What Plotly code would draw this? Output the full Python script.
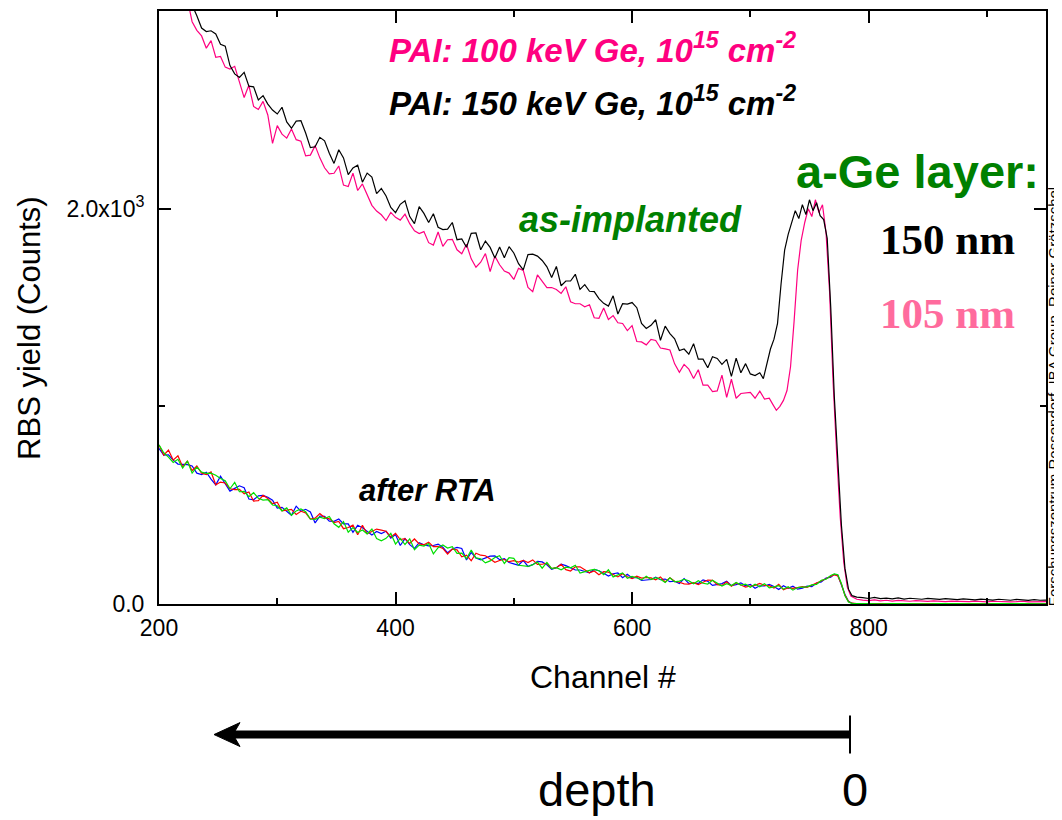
import plotly.graph_objects as go

# ---------------- data ----------------
# as-implanted, PAI 150 keV Ge (black)
ch_150 = list(range(200, 712, 4)) + list(range(711, 789, 3)) + [790] + list(range(795, 955, 5))
y_150 = [3384, 3302, 3274, 3184, 3172, 3160, 3034, 3030, 2976, 2914,
         2896, 2900, 2884, 2832, 2822, 2724, 2682, 2664, 2690, 2620,
         2616, 2550, 2572, 2529, 2499, 2479, 2513, 2439, 2407, 2443,
         2445, 2383, 2309, 2313, 2361, 2343, 2280, 2229, 2298, 2257,
         2172, 2206, 2220, 2134, 2180, 2160, 2076, 2102, 2064, 2006,
         1980, 2022, 2040, 1960, 1924, 2010, 1976, 1930, 1974, 1906,
         1894, 1896, 1930, 1843, 1847, 1805, 1875, 1877, 1792, 1836,
         1804, 1750, 1806, 1752, 1808, 1776, 1722, 1690, 1768, 1770,
         1760, 1738, 1706, 1652, 1708, 1610, 1634, 1634, 1668, 1592,
         1616, 1582, 1580, 1545, 1521, 1507, 1559, 1467, 1519, 1517,
         1525, 1499, 1419, 1394, 1410, 1438, 1334, 1406, 1368, 1342,
         1282, 1290, 1264, 1317, 1239, 1239, 1195, 1251, 1242, 1212,
         1238, 1152, 1244, 1170, 1216, 1164, 1156, 1170,
         1140, 1210, 1290, 1340, 1420, 1620, 1790, 1870, 1935, 1990,
         1950, 2020, 1970, 2045, 1990, 2030, 1965, 1945, 1850, 1500,
         1050, 700, 400, 180, 75, 42,
         35,
         32, 28, 33, 27, 30, 26, 31, 25, 29, 27,
         24, 28, 25, 23, 27, 24, 22, 26, 23, 21,
         25, 22, 20, 24, 21, 19, 23, 20, 18, 22,
         19, 20]

# as-implanted, PAI 100 keV Ge (pink)
ch_100 = list(range(200, 720, 4)) + list(range(719, 788, 3)) + [790] + list(range(795, 955, 5))
y_100 = [3310, 3350, 3246, 3188, 3076, 3076, 3060, 2946, 2902, 2874,
         2812, 2850, 2766, 2770, 2716, 2706, 2720, 2634, 2562, 2624,
         2517, 2502, 2543, 2474, 2330, 2420, 2377, 2357, 2403, 2349,
         2341, 2267, 2271, 2319, 2257, 2207, 2176, 2179, 2216, 2119,
         2112, 2180, 2092, 2125, 2072, 2017, 1988, 1969, 1940, 1981,
         1956, 1942, 1972, 1924, 1888, 1874, 1884, 1828, 1816, 1882,
         1809, 1843, 1845, 1792, 1772, 1820, 1746, 1704, 1729, 1773,
         1682, 1760, 1716, 1684, 1674, 1642, 1698, 1688, 1602, 1580,
         1665, 1633, 1601, 1601, 1591, 1571, 1605, 1529, 1519, 1519,
         1504, 1514, 1448, 1445, 1497, 1439, 1459, 1423, 1419, 1383,
         1408, 1328, 1326, 1311, 1339, 1333, 1295, 1291, 1285, 1215,
         1172, 1212, 1188, 1141, 1185, 1107, 1107, 1075, 1078, 1158,
         1045, 1137, 1041, 1065, 1069, 1071, 1041, 1077, 1037, 1041,
         1010, 980, 1000, 1030, 1080, 1200, 1430, 1690, 1840, 1930,
         2000, 1960, 2045, 1980, 2020, 1880, 1580, 1120, 760, 440,
         210, 85, 40,
         24,
         20, 17, 21, 16, 19, 15, 18, 16, 14, 17,
         15, 13, 16, 14, 12, 15, 13, 14, 12, 15,
         13, 11, 14, 12, 13, 11, 12, 14, 11, 12,
         10, 12]

# after RTA (red, blue, green)
ch_rta = (list(range(200, 744, 4)) + [744, 748, 752, 756, 760, 764, 768, 771, 774, 777, 780, 783, 786, 790]
          + list(range(800, 960, 10)))
y_rta_red = [805, 753, 779, 728, 750, 694, 723, 674, 698, 661,
             655, 668, 603, 617, 612, 583, 579, 580, 558, 567,
             521, 523, 550, 534, 507, 515, 471, 475, 479, 453,
             469, 461, 430, 434, 457, 438, 431, 412, 418, 381,
             387, 399, 350, 398, 355, 367, 379, 374, 368, 339,
             357, 326, 331, 306, 329, 304, 299, 312, 290, 291,
             281, 253, 278, 274, 239, 247, 219, 257, 247, 244,
             226, 211, 220, 225, 214, 219, 212, 221, 210, 223,
             200, 201, 206, 179, 184, 201, 174, 167, 188, 188,
             173, 158, 167, 148, 164, 161, 149, 137, 153, 138,
             129, 141, 131, 134, 132, 122, 137, 112, 133, 115,
             110, 102, 101, 108, 98, 110, 121, 120, 98, 94,
             112, 90, 106, 96, 86, 91, 94, 104, 94, 93,
             81, 99, 72, 82, 79, 83,
             88, 84, 95, 102, 115, 128, 140, 148, 142, 100, 45, 12, 4, 2,
             2, 1, 2, 1, 1, 2, 1, 1, 2, 1, 1, 1, 2, 1, 1, 1]
y_rta_blue = [787, 753, 755, 728, 708, 706, 705, 698, 662, 655,
              667, 632, 603, 647, 612, 571, 585, 598, 588, 531,
              527, 547, 550, 540, 525, 485, 489, 469, 449, 495,
              469, 479, 466, 410, 445, 444, 419, 418, 430, 405,
              405, 363, 398, 386, 367, 349, 367, 356, 368, 333,
              351, 296, 331, 300, 281, 310, 299, 294, 296, 303,
              287, 259, 278, 286, 281, 223, 261, 233, 223, 232,
              242, 243, 224, 229, 210, 203, 196, 221, 190, 199,
              216, 213, 198, 175, 184, 201, 194, 183, 172, 172,
              165, 158, 175, 168, 156, 141, 153, 157, 133, 150,
              132, 135, 119, 120, 124, 136, 123, 126, 113, 115,
              104, 128, 104, 105, 104, 122, 115, 94, 98, 103,
              115, 93, 98, 107, 92, 99, 80, 92, 91, 99,
              89, 73, 92, 79, 90, 75,
              80, 90, 88, 106, 112, 131, 136, 150, 145, 96, 48, 14, 3, 1,
              1, 2, 1, 1, 2, 1, 1, 1, 1, 2, 1, 1, 1, 1, 2, 1]
y_rta_green = [805, 765, 743, 716, 732, 688, 723, 662, 692, 667,
               661, 662, 651, 635, 624, 583, 615, 568, 570, 543,
               563, 535, 526, 528, 501, 497, 471, 487, 449, 471,
               481, 467, 430, 428, 439, 432, 443, 406, 388, 417,
               363, 387, 362, 374, 355, 379, 331, 320, 332, 357,
               303, 332, 301, 330, 275, 298, 293, 306, 254, 285,
               299, 283, 290, 256, 257, 229, 273, 233, 229, 208,
               218, 235, 244, 205, 234, 231, 196, 193, 190, 199,
               212, 181, 210, 179, 184, 173, 186, 183, 196, 156,
               165, 170, 175, 168, 148, 173, 137, 145, 157, 130,
               140, 133, 122, 140, 124, 133, 125, 109, 133, 112,
               116, 125, 118, 102, 118, 105, 101, 120, 106, 91,
               103, 93, 109, 96, 100, 85, 100, 87, 103, 82,
               87, 93, 75, 87, 70, 83,
               85, 87, 97, 99, 120, 125, 144, 152, 148, 104, 42, 10, 3, 2,
               1, 1, 2, 1, 1, 1, 2, 1, 1, 1, 1, 2, 1, 1, 1, 1]

assert len(ch_150) == len(y_150), (len(ch_150), len(y_150))
assert len(ch_100) == len(y_100), (len(ch_100), len(y_100))
for _s in (y_rta_red, y_rta_blue, y_rta_green):
    assert len(ch_rta) == len(_s), (len(ch_rta), len(_s))

x_tickvals = [200, 400, 600, 800]
x_minor = [300, 500, 700, 900]
y_tickvals = [0, 2000]
y_ticktext = ["0.0", "2.0x10<sup>3</sup>"]
y_minor = [1000, 3000]

# ---------------- figure ----------------
FONT = "Liberation Sans, Arial, Helvetica, sans-serif"
SERIF = "Liberation Serif, Times New Roman, serif"

fig = go.Figure()
fig.add_trace(go.Scatter(x=ch_100, y=y_100, mode="lines", line=dict(color="#ff0080", width=1.2)))
fig.add_trace(go.Scatter(x=ch_150, y=y_150, mode="lines", line=dict(color="black", width=1.2)))
fig.add_trace(go.Scatter(x=ch_rta, y=y_rta_blue, mode="lines", line=dict(color="#0000ff", width=1.2)))
fig.add_trace(go.Scatter(x=ch_rta, y=y_rta_red, mode="lines", line=dict(color="#ff0000", width=1.2)))
fig.add_trace(go.Scatter(x=ch_rta, y=y_rta_green, mode="lines", line=dict(color="#00e000", width=1.2)))

axis_common = dict(
    showline=True, linewidth=2, linecolor="black", mirror="ticks",
    ticks="inside", ticklen=12, tickwidth=2, tickcolor="black",
    showgrid=False, zeroline=False,
    tickfont=dict(family=FONT, size=23, color="black"),
)
fig.update_xaxes(range=[200, 950], tickvals=x_tickvals, ticklabelstandoff=2,
                 minor=dict(tickvals=x_minor, ticks="inside", ticklen=6, tickwidth=2, tickcolor="black"),
                 **axis_common)
fig.update_yaxes(range=[0, 3000], tickvals=y_tickvals, ticktext=y_ticktext, ticklabelstandoff=8,
                 minor=dict(tickvals=y_minor, ticks="inside", ticklen=6, tickwidth=2, tickcolor="black"),
                 **axis_common)


def px2paper_x(px):
    return (px - 159) / 887


def px2paper_y(py):
    return (604 - py) / 595


def label(x, y, text, size, color="black", family=FONT, angle=0, ref="paper", yanchor="middle"):
    return dict(x=x, y=y, xref=ref if ref == "paper" else "x", yref=ref if ref == "paper" else "y",
                xanchor="center", yanchor=yanchor, showarrow=False, text=text, textangle=angle,
                font=dict(family=family, size=size, color=color))


ann = []
# in-plot labels (data coords)
ann.append(dict(x=393, y=2815, xref="x", yref="y", xanchor="left", yanchor="middle", showarrow=False,
                text="<b><i>PAI: 100 keV Ge, 10<sup>15</sup> cm<sup>-2</sup></i></b>",
                font=dict(family=FONT, size=33, color="#ff0080")))
ann.append(dict(x=393, y=2545, xref="x", yref="y", xanchor="left", yanchor="middle", showarrow=False,
                text="<b><i>PAI: 150 keV Ge, 10<sup>15</sup> cm<sup>-2</sup></i></b>",
                font=dict(family=FONT, size=33, color="black")))
ann.append(label(599, 1945, "<b><i>as-implanted</i></b>", 36, "#008000", ref="data"))
ann.append(label(427, 574, "<b><i>after RTA</i></b>", 31, ref="data"))
ann.append(label(841, 2186, "<b>a-Ge layer:</b>", 47, "#008000", ref="data"))
ann.append(label(867, 1844, "<b>150 nm</b>", 43, family=SERIF, ref="data"))
ann.append(label(867, 1471, "<b>105 nm</b>", 43, "#ff6b9d", family=SERIF, ref="data"))
# axis titles
ann.append(label(px2paper_x(30), px2paper_y(327), "RBS yield (Counts)", 31, angle=-90))
ann.append(label(px2paper_x(603), px2paper_y(677), "Channel #", 32))
# credit (vertical)
ann.append(label(px2paper_x(1053.5), px2paper_y(396),
                 "Forschungszentrum Rossendorf, IBA Group, Reiner Grötzschel", 15, angle=-90))
# depth labels
ann.append(label(px2paper_x(597), px2paper_y(819), "depth", 47, yanchor="bottom"))
ann.append(label(px2paper_x(855), px2paper_y(819), "0", 47, yanchor="bottom"))

shapes = []
ay = px2paper_y(735)
shapes.append(dict(type="line", xref="paper", yref="paper",
                   x0=px2paper_x(850), x1=px2paper_x(232), y0=ay, y1=ay,
                   line=dict(color="black", width=8)))
shapes.append(dict(type="line", xref="paper", yref="paper",
                   x0=px2paper_x(850), x1=px2paper_x(850), y0=px2paper_y(716), y1=px2paper_y(754),
                   line=dict(color="black", width=2)))
tip = (px2paper_x(214), ay)
bt = (px2paper_x(240), px2paper_y(723))
nt = (px2paper_x(233), ay)
bb = (px2paper_x(240), px2paper_y(747))
shapes.append(dict(type="path", xref="paper", yref="paper",
                   path=f"M {tip[0]},{tip[1]} L {bt[0]},{bt[1]} L {nt[0]},{nt[1]} L {bb[0]},{bb[1]} Z",
                   fillcolor="black", line=dict(color="black", width=1)))

# the page adds an 8px body margin, so the figure is drawn 8px smaller to fit the window
fig.update_layout(
    width=1054, height=812, autosize=False,
    margin=dict(l=151, r=16, t=1, b=216),
    paper_bgcolor="white", plot_bgcolor="white",
    showlegend=False,
    annotations=ann, shapes=shapes,
    font=dict(family=FONT, color="black"),
)

fig.write_html("out.html")
